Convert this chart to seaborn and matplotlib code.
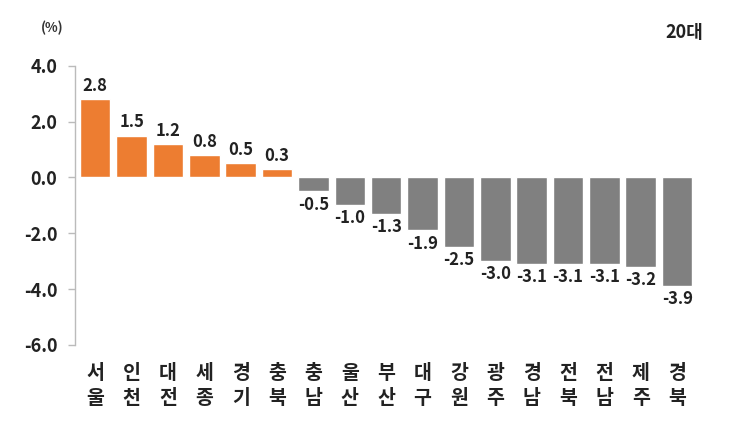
import matplotlib
matplotlib.use("Agg")
import matplotlib.pyplot as plt
import pandas as pd
import seaborn as sns

regions = ["서울", "인천", "대전", "세종", "경기", "충북", "충남", "울산", "부산",
           "대구", "강원", "광주", "경남", "전북", "전남", "제주", "경북"]
values = [2.8, 1.5, 1.2, 0.8, 0.5, 0.3, -0.5, -1.0, -1.3,
          -1.9, -2.5, -3.0, -3.1, -3.1, -3.1, -3.2, -3.9]
y_ticks = [4.0, 2.0, 0.0, -2.0, -4.0, -6.0]

ORANGE = "#ED7D31"
GRAY = "#808080"

sns.set_style("white")
plt.rcParams["font.family"] = ["Noto Sans CJK KR", "DejaVu Sans"]

df = pd.DataFrame({"region": regions, "value": values})
df["sign"] = ["pos" if v >= 0 else "neg" for v in values]
df["label"] = ["\n".join(r) for r in regions]

fig = plt.figure(figsize=(7.3, 4.3), dpi=100)
ax = fig.add_axes([0.103, 0.198, 0.852, 0.649])

sns.barplot(data=df, x="label", y="value", hue="sign",
            palette={"pos": ORANGE, "neg": GRAY}, dodge=False,
            legend=False, width=0.84, saturation=1, ax=ax)

for cont in ax.containers:
    ax.bar_label(cont, fmt="%.1f", padding=3, fontsize=12,
                 fontweight="bold", color="#222222")

ax.set_ylim(-6, 4)
ax.set_xlim(-0.55, len(regions) - 0.45)
ax.set_yticks(y_ticks)
ax.set_yticklabels([f"{t:.1f}" for t in y_ticks], fontsize=13,
                   fontweight="bold", color="#222222")
ax.tick_params(axis="y", length=5, width=1, color="#BBBBBB", left=True, pad=8)
ax.tick_params(axis="x", length=0, pad=14, labelsize=14)
for lab in ax.get_xticklabels():
    lab.set_fontweight("bold")
    lab.set_color("#222222")
    lab.set_linespacing(1.4)

ax.set_xlabel("")
ax.set_ylabel("")
for side in ["top", "right", "bottom"]:
    ax.spines[side].set_visible(False)
ax.spines["left"].set_color("#BBBBBB")
ax.spines["left"].set_linewidth(1)

fig.text(0.072, 0.935, "(%)", fontsize=9.5, fontweight="bold",
         color="#333333", ha="center", va="center")
fig.text(0.937, 0.925, "20대", fontsize=13, fontweight="bold",
         color="#222222", ha="center", va="center")

fig.savefig("out.png", dpi=100)
